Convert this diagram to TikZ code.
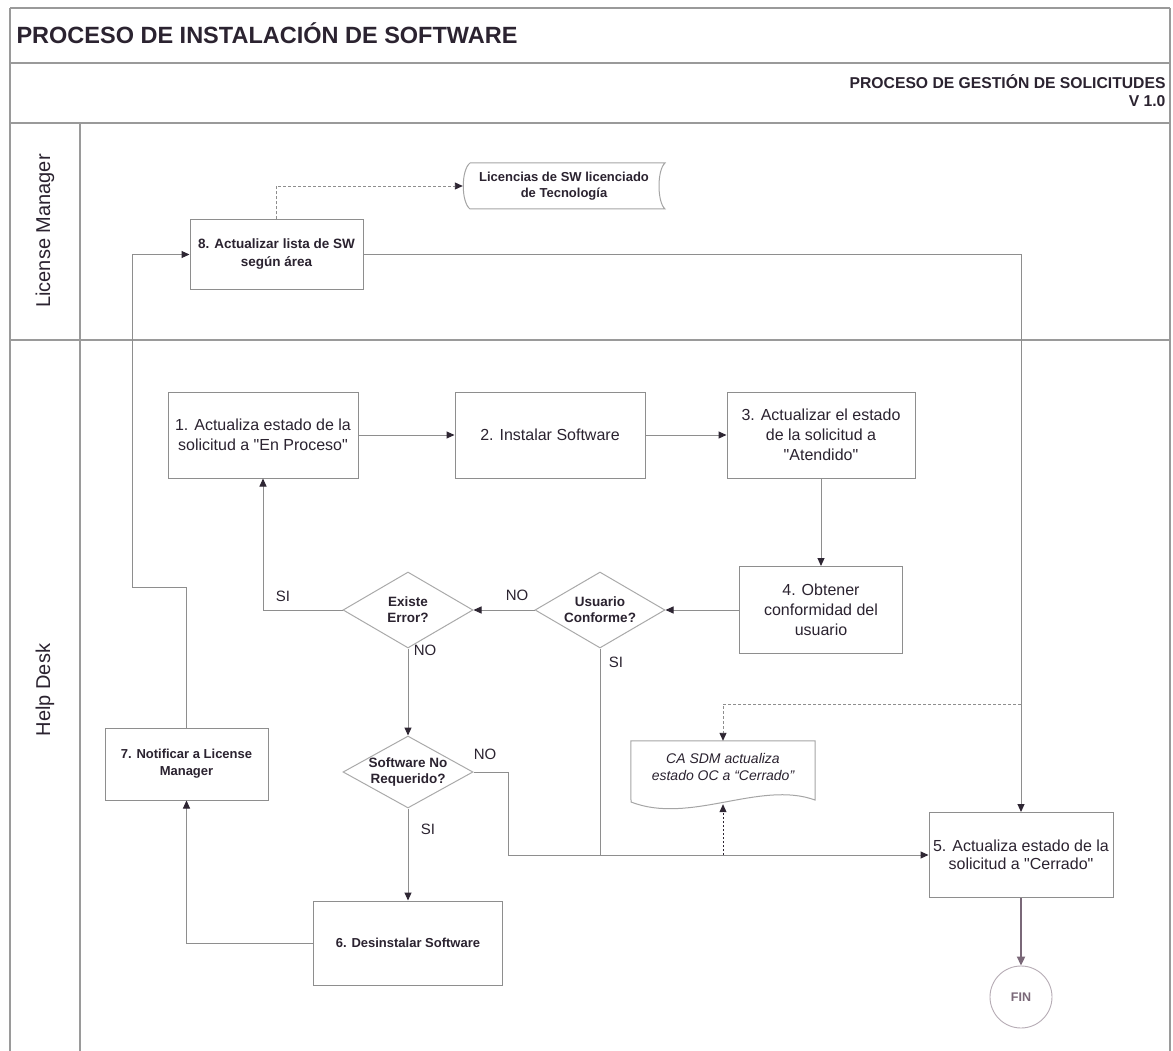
\documentclass[tikz,border=0pt]{standalone}
\usepackage{fontspec}
\setmainfont{Liberation Sans}[Ligatures=TeXOff]
\usetikzlibrary{arrows.meta,shapes.geometric,calc}
\definecolor{framec}{HTML}{9A9A9A}
\definecolor{linec}{HTML}{8E8E8E}
\definecolor{inkc}{HTML}{2B2330}
\definecolor{tipc}{HTML}{2E2633}
\definecolor{finc}{HTML}{7A6878}
\begin{document}
\begin{tikzpicture}[x=1pt,y=-1pt,
  framel/.style={draw=framec, line width=1.3pt},
  task/.style={draw=linec, line width=1pt, rectangle, align=center, inner sep=2pt, text=inkc},
  bigtask/.style={task, font=\fontsize{16}{20}\selectfont},
  smalltask/.style={task, font=\bfseries\fontsize{13.5}{18}\selectfont},
  decision/.style={draw=linec!75, line width=1pt, diamond, minimum width=130pt, minimum height=76pt, inner sep=0pt},
  dtext/.style={font=\bfseries\fontsize{13.5}{16}\selectfont, text=inkc, align=center},
  flow/.style={draw=linec, line width=1pt, -{Triangle[length=8pt,width=7pt,color=tipc]}},
  wire/.style={draw=linec, line width=1pt},
  dashflow/.style={draw=linec, line width=0.9pt, dash pattern=on 3pt off 2pt, -{Triangle[length=8pt,width=7pt,color=tipc]}},
  dotflow/.style={draw=tipc, line width=0.9pt, dash pattern=on 2pt off 2pt, -{Triangle[length=8pt,width=7pt,color=tipc]}},
  lbl/.style={font=\fontsize{15}{18}\selectfont, text=inkc},
  lane/.style={font=\fontsize{20}{24}\selectfont, text=inkc, rotate=90},
]
\fill[white] (0,0) rectangle (1173,1051);
\useasboundingbox (0,0) rectangle (1173,1051);

% outer frame, header bands and swimlanes
\draw[framel] (10,8) -- (1170,8);
\draw[framel] (10,8) -- (10,1051);
\draw[framel] (1170,8) -- (1170,1051);
\draw[framel] (10,63) -- (1170,63);
\draw[framel] (10,123) -- (1170,123);
\draw[framel] (80,123) -- (80,1051);
\draw[framel] (10,340) -- (1170,340);

\node[anchor=base west, font=\bfseries\fontsize{23.5}{28}\selectfont, text=inkc] (title) at (13,44) {PROCESO DE INSTALACIÓN DE SOFTWARE};
\node[anchor=base east, font=\bfseries\fontsize{15.7}{18}\selectfont, text=inkc] (sub) at (1169,89) {PROCESO DE GESTIÓN DE SOLICITUDES};
\node[anchor=base east, font=\bfseries\fontsize{15.7}{18}\selectfont, text=inkc] (ver) at (1169,107) {V 1.0};

\node[lane] (lm) at (45,231) {License Manager};
\node[lane] (hd) at (45,690) {Help Desk};

% process steps
\node[smalltask, minimum width=173pt, minimum height=69pt] (b8) at (276.5,254.5) {8. Actualizar lista de SW\\según área};
\node[bigtask, minimum width=190pt, minimum height=86pt] (b1) at (263,435) {1. Actualiza estado de la\\solicitud a "En Proceso"};
\node[bigtask, minimum width=190pt, minimum height=86pt] (b2) at (550,435) {2. Instalar Software};
\node[bigtask, minimum width=188pt, minimum height=86pt] (b3) at (821,435) {3. Actualizar el estado\\de la solicitud a\\"Atendido"};
\node[bigtask, minimum width=163pt, minimum height=87pt] (b4) at (821,610) {4. Obtener\\conformidad del\\usuario};
\node[bigtask, minimum width=184pt, minimum height=85pt, font=\fontsize{16}{18}\selectfont] (b5) at (1021,855) {5. Actualiza estado de la\\solicitud a "Cerrado"};
\node[smalltask, minimum width=189pt, minimum height=84pt, font=\bfseries\fontsize{13}{17}\selectfont] (b6) at (408,943) {6. Desinstalar Software};
\node[smalltask, minimum width=163pt, minimum height=72pt, font=\bfseries\fontsize{13}{17}\selectfont] (b7) at (186.5,764) {7. Notificar a License\\Manager};

% decisions
\node[decision] (usr) at (600,610) {};
\node[dtext] (usrt) at (usr) {Usuario\\Conforme?};
\node[decision] (err) at (408,610) {};
\node[dtext] (errt) at (err) {Existe\\Error?};
\node[decision, minimum height=72pt] (sw) at (408,772) {};
\node[dtext] (swt) at (sw) {Software No\\Requerido?};

% data stores and documents
\node[minimum width=202pt, minimum height=46pt, inner sep=0pt, align=center, text=inkc, font=\bfseries\fontsize{13}{16}\selectfont] (lic) at (564,186) {Licencias de SW licenciado\\de Tecnología};
\draw[draw=linec!80, line width=1pt] (470,163) -- (665,163) .. controls (657,170) and (657,202) .. (665,209) -- (470,209) .. controls (461,202) and (461,170) .. (470,163);

\node[minimum width=184pt, minimum height=62pt, inner sep=0pt] (csdm) at (723,772) {};
\node[align=center, text=inkc, font=\itshape\fontsize{14}{16.5}\selectfont] (csdmt) at (723,767) {CA SDM actualiza\\estado OC a “Cerrado”};
\draw[draw=linec!80, line width=1pt] (csdm.north west) -- (csdm.north east) -- (815,800) .. controls (760,780) and (690,825) .. (631,802) -- cycle;

\node[circle, draw=finc!55, line width=0.9pt, minimum size=62pt, font=\bfseries\fontsize{12.5}{14}\selectfont, text=finc] (fin) at (1021,997) {FIN};

% connectors
\coordinate (jn) at (508,855);
\coordinate (k1) at (132,587);
\coordinate (dj) at (1021,704);

\draw[flow] (b1) -- (b2);
\draw[flow] (b2) -- (b3);
\draw[flow] (b3.south) -- (b4.north);
\draw[flow] (b4.west) -- (usr.east);
\draw[flow] (usr.west) -- (err.east);
\draw[flow] (err.west) -| (b1.south);
\draw[flow] (err.south) -- (sw.north);
\draw[flow] (sw.south) -- (b6.north);
\draw[flow] (sw.east) -| (jn) -- (b5.west);
\draw[wire] (usr.south) -- (usr.south |- jn);
\draw[flow] (b6.west) -| (b7.south);
\draw[flow] (b7.north) |- (k1) |- (b8.west);
\draw[flow] (b8.east) -| (b5.north);
\draw[dashflow] (b8.north) |- (lic.west);
\draw[dashflow] (dj) -| (csdm.north);
\draw[dotflow] (csdm.south |- jn) -- ($(csdm.south)+(0,1)$);
\draw[draw=finc, line width=2pt, -{Triangle[length=9pt,width=8pt,color=finc]}] (b5.south) -- (fin.north);

% branch labels
\node[lbl] (l1) at (283,596) {SI};
\node[lbl] (l2) at (517,595) {NO};
\node[lbl] (l3) at (425,650) {NO};
\node[lbl] (l4) at (616,662) {SI};
\node[lbl] (l5) at (485,754) {NO};
\node[lbl] (l6) at (428,829) {SI};
\end{tikzpicture}
\end{document}
